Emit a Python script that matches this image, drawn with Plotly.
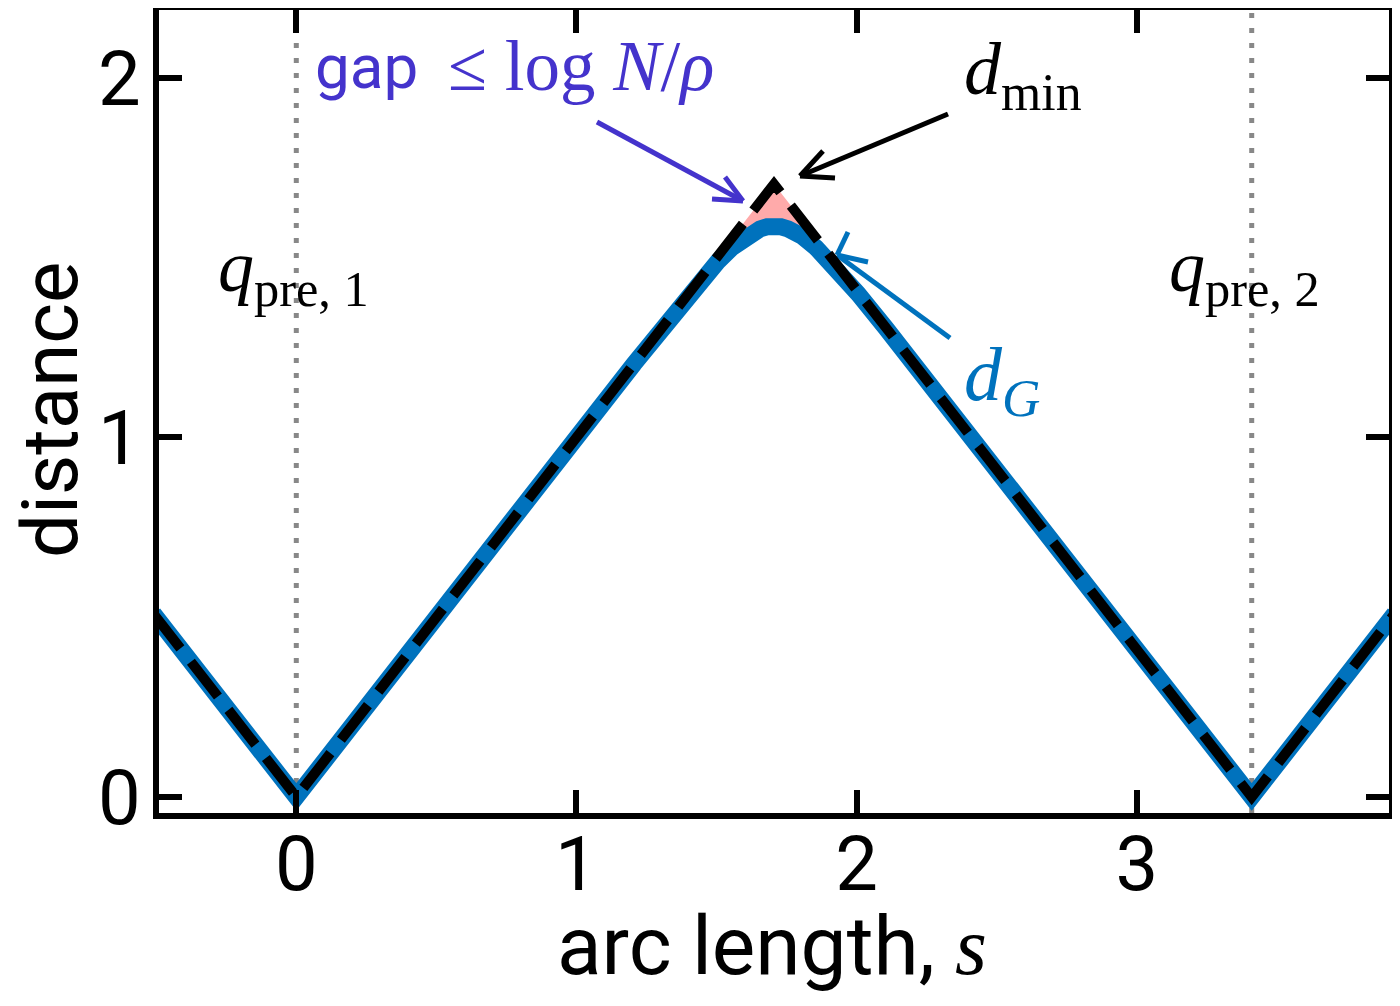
import plotly.graph_objects as go

# ---------------- data ----------------
pre_s = [0.0, 3.41]                       # q_pre,1 and q_pre,2 positions
dmin_s = [-0.51, 0.0, 1.705, 3.41, 3.92]
dmin_d = [0.51, 0.0, 1.705, 0.0, 0.51]

dG_s = [-0.51, 0.0, 1.205, 1.305, 1.405, 1.455, 1.505, 1.555, 1.605, 1.630,
        1.655, 1.680, 1.705, 1.730, 1.755, 1.780, 1.805, 1.855, 1.905, 1.955,
        2.005, 2.105, 2.205, 3.41, 3.92]
dG_d = [0.51, 0.0, 1.2045, 1.3035, 1.400, 1.446, 1.490, 1.528, 1.560, 1.571,
        1.580, 1.586, 1.588, 1.586, 1.580, 1.571, 1.560, 1.528, 1.490, 1.446,
        1.400, 1.3035, 1.2045, 0.0, 0.51]

# gap region (between d_min and d_G around the peak)
gap_s = [1.405, 1.455, 1.505, 1.555, 1.605, 1.630, 1.655, 1.680, 1.705,
         1.730, 1.755, 1.780, 1.805, 1.855, 1.905, 1.955, 2.005]
gap_top = [1.405, 1.455, 1.505, 1.555, 1.605, 1.630, 1.655, 1.680, 1.705,
           1.680, 1.655, 1.630, 1.605, 1.555, 1.505, 1.455, 1.405]
gap_bot = [1.400, 1.446, 1.490, 1.528, 1.560, 1.571, 1.580, 1.586, 1.588,
           1.586, 1.580, 1.571, 1.560, 1.528, 1.490, 1.446, 1.400]

x_ticks = [0, 1, 2, 3]
y_ticks = [0, 1, 2]

# ---------------- layout constants ----------------
OFF = 8                      # page body margin in the browser
W, H = 1392, 998
ML, MR, MT, MB = 151, 11, 2, 193
XR = [-0.49, 3.90]
YR = [-0.0445, 2.189]

SANS = "Roboto"
SERIF = "Liberation Serif"
BLUE = "#0072bd"
PURPLE = "#4433cc"
PINK = "#ffaaaa"


def px2x(px):
    return XR[0] + (px - OFF - ML) / (W - ML - MR) * (XR[1] - XR[0])


def py2y(py):
    return YR[1] - (py - OFF - MT) / (H - MT - MB) * (YR[1] - YR[0])


def px2p(px):
    return (px - OFF - ML) / (W - ML - MR)


def py2p(py):
    return 1 - (py - OFF - MT) / (H - MT - MB)


fig = go.Figure()

fig.add_trace(go.Scatter(x=gap_s + gap_s[::-1], y=gap_top + gap_bot[::-1],
                         mode="lines", fill="toself", fillcolor=PINK,
                         line=dict(width=0), hoverinfo="skip"))
fig.add_trace(go.Scatter(x=dG_s, y=dG_d, mode="lines",
                         line=dict(color=BLUE, width=17), hoverinfo="skip"))
fig.add_trace(go.Scatter(x=dmin_s, y=dmin_d, mode="lines",
                         line=dict(color="black", width=10, dash="44px,17px"),
                         hoverinfo="skip"))

shapes = []
for s in pre_s:
    shapes.append(dict(type="line", xref="x", yref="paper", x0=s, x1=s, y0=0, y1=1,
                       line=dict(color="#888888", width=5, dash="5px,10px"),
                       layer="below"))


def arrow(tail, tip, b1, b2, color, width=5):
    for a, b in [(tail, tip), (b1, tip), (b2, tip)]:
        shapes.append(dict(type="line", xref="x", yref="y",
                           x0=px2x(a[0]), y0=py2y(a[1]), x1=px2x(b[0]), y1=py2y(b[1]),
                           line=dict(color=color, width=width), layer="below"))


arrow((597, 122), (743, 201), (725, 177), (712, 199), PURPLE)
arrow((948, 114), (800, 176), (823, 151), (835, 178), "black")
arrow((950, 338), (837, 255), (868, 262), (848, 232), BLUE)

annotations = [
    dict(x=px2p(313), y=py2p(66), text="gap",
         font=dict(family=SANS, size=62, color=PURPLE)),
    dict(x=px2p(446), y=py2p(66), text="≤ log <i>N</i>/<i>ρ</i>",
         font=dict(family=SERIF, size=71, color=PURPLE)),
    dict(x=px2p(962), y=py2p(75), text="<i>d</i><sub>min</sub>",
         font=dict(family=SERIF, size=74, color="black")),
    dict(x=px2p(962), y=py2p(380), text="<i>d</i><sub><i>G</i></sub>",
         font=dict(family=SERIF, size=76, color=BLUE)),
    dict(x=px2p(216), y=py2p(272), text="<i>q</i><sub>pre, 1</sub>",
         font=dict(family=SERIF, size=72, color="black")),
    dict(x=px2p(1167), y=py2p(272), text="<i>q</i><sub>pre, 2</sub>",
         font=dict(family=SERIF, size=72, color="black")),
]
for a in annotations:
    a.update(xanchor="left", yanchor="middle")

annotations += [
    dict(x=px2p(772), y=py2p(946), xanchor="center", yanchor="middle",
         text='arc length, <span style="font-family:Liberation Serif"><i>s</i></span>',
         font=dict(family=SANS, size=82, color="black")),
    dict(x=px2p(50), y=py2p(410), xanchor="center", yanchor="middle", textangle=-90,
         text="distance", font=dict(family=SANS, size=78, color="black")),
]
for a in annotations:
    a.update(xref="paper", yref="paper", showarrow=False)

axis_common = dict(ticks="inside", ticklen=23, tickwidth=6, tickcolor="black",
                   showline=True, linewidth=6, linecolor="black", mirror="allticks",
                   showgrid=False, zeroline=False, automargin=False,
                   tickfont=dict(family=SANS, size=76, color="black"))

fig.update_layout(
    width=W, height=H,
    margin=dict(l=ML, r=MR, t=MT, b=MB, autoexpand=False),
    plot_bgcolor="white", paper_bgcolor="white",
    showlegend=False,
    shapes=shapes, annotations=annotations,
    xaxis=dict(range=XR, tickvals=x_ticks, ticklabelstandoff=-20, **axis_common),
    yaxis=dict(range=YR, tickvals=y_ticks, ticklabelstandoff=-3, **axis_common),
)

fig.write_html("out.html")
